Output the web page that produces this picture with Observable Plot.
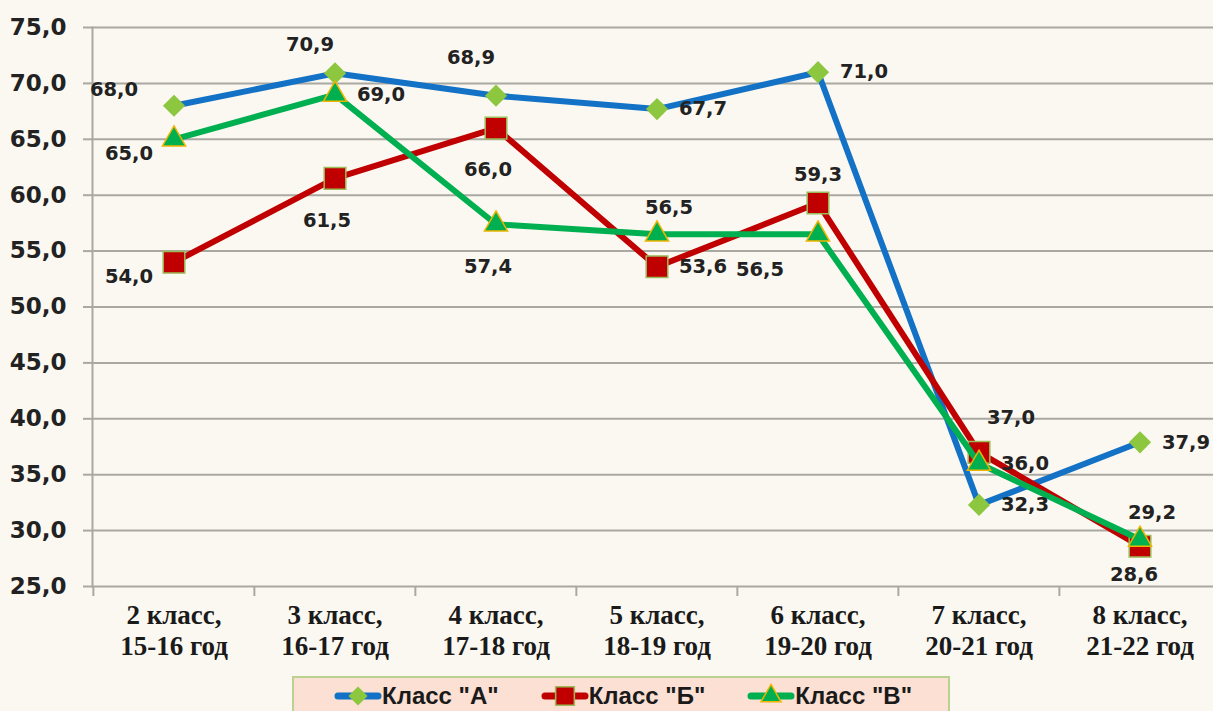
<!DOCTYPE html>
<html>
<head>
<meta charset="utf-8">
<script src="https://cdn.jsdelivr.net/npm/d3@7"></script>
<script src="https://cdn.jsdelivr.net/npm/@observablehq/plot@0.6"></script>
<style>
  html, body { margin: 0; padding: 0; background: #fbf8f1; width: 1213px; height: 711px; overflow: hidden; }
  #chart svg { display: block; }
  #legend {
    position: absolute; left: 292px; top: 676px; width: 658px; height: 44px;
    background: #fbe0d3; border: 2px solid #b9d28f; box-sizing: border-box;
    display: flex; flex-wrap: nowrap; align-items: flex-start; padding-top: 3px; padding-left: 40px; gap: 0;
    font-family: "Liberation Sans", Arial, sans-serif; font-weight: bold; font-size: 24px; color: #1a1a1a;
    white-space: nowrap;
  }
  .item { display: flex; align-items: center; margin-right: 42px; flex-shrink: 0; white-space: nowrap; }
  .item svg { display: block; flex-shrink: 0; }
</style>
</head>
<body>
<div id="chart"></div>
<div id="legend"></div>
<script>
// ---- data ----
const categories = [
  "2 класс,\n15-16 год",
  "3 класс,\n16-17 год",
  "4 класс,\n17-18 год",
  "5 класс,\n18-19 год",
  "6 класс,\n19-20 год",
  "7 класс,\n20-21 год",
  "8 класс,\n21-22 год"
];
const seriesNames = ['Класс "А"', 'Класс "Б"', 'Класс "В"'];
const valuesA = [68.0, 70.9, 68.9, 67.7, 71.0, 32.3, 37.9];
const valuesB = [54.0, 61.5, 66.0, 53.6, 59.3, 37.0, 28.6];
const valuesC = [65.0, 69.0, 57.4, 56.5, 56.5, 36.0, 29.2];
const yTicks = [25, 30, 35, 40, 45, 50, 55, 60, 65, 70, 75];

// label placement keywords (per point)
const placeA = ["leftUp", "aboveLeft", "aboveLeftHigh", "right", "right", "right", "right"];
const placeB = ["leftDown", "below", "below", "right", "above", "upRight", "belowNear"];
const placeC = ["leftDown", "right", "below", "aboveRight", "leftDownFar", "right", "aboveRight"];

// ---- styling ----
const presets = {
  above: [0, -28], aboveLeft: [-25, -29], aboveLeftHigh: [-25, -38], aboveRight: [12, -27],
  below: [-8, 42], belowNear: [-6, 28], right: [46, 0],
  leftUp: [-60, -16], leftDown: [-45, 14], leftDownFar: [-58, 35], upRight: [32, -35]
};
const colors = ["#1372c6", "#c00000", "#00b050"];
const gridColor = "#a9a9a2";
const fmt = d => d.toFixed(1).replace(".", ",");

const allValues = [valuesA, valuesB, valuesC];
const allPlaces = [placeA, placeB, placeC];
const rows = [];
allValues.forEach((vals, s) => vals.forEach((v, i) =>
  rows.push({cat: categories[i], series: seriesNames[s], s, value: v, place: allPlaces[s][i]})));

const xRange = [92, 1221];
const bw = (xRange[1] - xRange[0]) / categories.length;

const dotStyles = [
  {symbol: "diamond2", r: 10, fill: "#8dc63f", stroke: "none"},
  {symbol: "square", r: 12.2, fill: "#c00000", stroke: "#9bbb59", strokeWidth: 1.5},
  {symbol: "triangle", r: 8.6, fill: "#00b050", stroke: "#f0b400", strokeWidth: 1.5}
];

const seriesMarks = [];
seriesNames.forEach((name, s) => {
  const data = rows.filter(r => r.s === s);
  seriesMarks.push(Plot.line(data, {x: "cat", y: "value", stroke: colors[s], strokeWidth: 6, strokeLinejoin: "round", strokeLinecap: "round"}));
  seriesMarks.push(Plot.dot(data, {x: "cat", y: "value", ...dotStyles[s]}));
});

const labelMarks = Object.entries(presets).map(([key, [dx, dy]]) =>
  Plot.text(rows.filter(r => r.place === key), {
    x: "cat", y: "value", text: d => fmt(d.value), dx, dy,
    fontSize: 19.5, fontWeight: "bold", fontFamily: "DejaVu Sans", fill: "#222"
  }));

const chart = Plot.plot({
  width: 1213, height: 672,
  marginLeft: 92, marginRight: 0, marginTop: 27, marginBottom: 86,
  x: {type: "band", domain: categories, range: xRange, padding: 0},
  y: {domain: [25, 75], range: [586, 27]},
  style: {background: "transparent", overflow: "visible"},
  marks: [
    Plot.ruleY(yTicks, {stroke: gridColor, strokeWidth: 2}),
    Plot.frame({anchor: "left", stroke: gridColor, strokeWidth: 2}),
    Plot.axisY({ticks: yTicks, tickSize: 9, tickPadding: 17, stroke: gridColor, strokeWidth: 2,
      fontSize: 23, fontWeight: "bold", fontFamily: "DejaVu Sans", fill: "#222", tickFormat: fmt, label: null}),
    Plot.axisX({anchor: "bottom", tickSize: 10, dx: -bw / 2, tickFormat: () => "", stroke: gridColor, strokeWidth: 2, label: null}),
    Plot.axisX({anchor: "bottom", tickSize: 0, tickPadding: 16, fontSize: 27, fontWeight: "bold",
      fontFamily: "Liberation Serif", lineHeight: 1.13, fill: "#1a1a1a", tickFormat: d => d, label: null}),
    ...seriesMarks,
    ...labelMarks
  ]
});
document.getElementById("chart").appendChild(chart);

// ---- legend ----
const legend = d3.select("#legend");
seriesNames.forEach((name, s) => {
  const item = legend.append("div").attr("class", "item");
  const svg = item.append("svg").attr("width", 48).attr("height", 30);
  svg.append("line").attr("x1", 4).attr("x2", 44).attr("y1", 15).attr("y2", 15)
    .attr("stroke", colors[s]).attr("stroke-width", 7).attr("stroke-linecap", "round");
  const st = dotStyles[s];
  const sym = d3.symbol().type({diamond2: d3.symbolDiamond2, square: d3.symbolSquare, triangle: d3.symbolTriangle}[st.symbol]).size(Math.PI * st.r * st.r * 0.75);
  svg.append("path").attr("d", sym()).attr("transform", "translate(24,15)")
    .attr("fill", st.fill).attr("stroke", st.stroke).attr("stroke-width", st.strokeWidth || 0);
  item.append("span").text(name);
});
</script>
</body>
</html>
